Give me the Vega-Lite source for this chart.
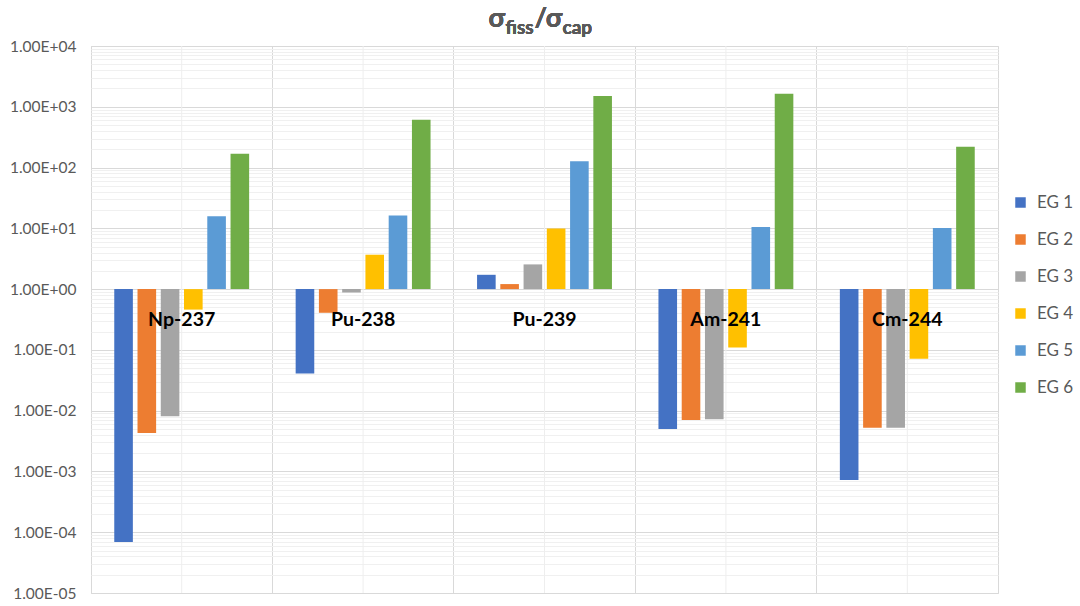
{
  "$schema": "https://vega.github.io/schema/vega-lite/v6.json",
  "width": 907,
  "height": 547,
  "autosize": {"type": "none"},
  "padding": {"left": 91, "top": 46, "right": 82, "bottom": 13},
  "background": "white",
  "config": {
    "view": {"stroke": "#d9d9d9", "strokeWidth": 1},
    "font": "Lato"
  },
  "datasets": {
    "bars": [
      {"iso": "Np-237", "eg": "EG 1", "value": 6.9e-5},
      {"iso": "Np-237", "eg": "EG 2", "value": 4.3e-3},
      {"iso": "Np-237", "eg": "EG 3", "value": 8.1e-3},
      {"iso": "Np-237", "eg": "EG 4", "value": 0.46},
      {"iso": "Np-237", "eg": "EG 5", "value": 15.8},
      {"iso": "Np-237", "eg": "EG 6", "value": 168},
      {"iso": "Pu-238", "eg": "EG 1", "value": 0.041},
      {"iso": "Pu-238", "eg": "EG 2", "value": 0.408},
      {"iso": "Pu-238", "eg": "EG 3", "value": 0.88},
      {"iso": "Pu-238", "eg": "EG 4", "value": 3.68},
      {"iso": "Pu-238", "eg": "EG 5", "value": 16.2},
      {"iso": "Pu-238", "eg": "EG 6", "value": 611},
      {"iso": "Pu-239", "eg": "EG 1", "value": 1.72},
      {"iso": "Pu-239", "eg": "EG 2", "value": 1.21},
      {"iso": "Pu-239", "eg": "EG 3", "value": 2.55},
      {"iso": "Pu-239", "eg": "EG 4", "value": 9.9},
      {"iso": "Pu-239", "eg": "EG 5", "value": 127},
      {"iso": "Pu-239", "eg": "EG 6", "value": 1500},
      {"iso": "Am-241", "eg": "EG 1", "value": 5.0e-3},
      {"iso": "Am-241", "eg": "EG 2", "value": 7.0e-3},
      {"iso": "Am-241", "eg": "EG 3", "value": 7.2e-3},
      {"iso": "Am-241", "eg": "EG 4", "value": 0.109},
      {"iso": "Am-241", "eg": "EG 5", "value": 10.5},
      {"iso": "Am-241", "eg": "EG 6", "value": 1637},
      {"iso": "Cm-244", "eg": "EG 1", "value": 7.2e-4},
      {"iso": "Cm-244", "eg": "EG 2", "value": 5.25e-3},
      {"iso": "Cm-244", "eg": "EG 3", "value": 5.25e-3},
      {"iso": "Cm-244", "eg": "EG 4", "value": 0.0716},
      {"iso": "Cm-244", "eg": "EG 5", "value": 10.1},
      {"iso": "Cm-244", "eg": "EG 6", "value": 219}
    ],
    "cats": [
      {"iso": "Np-237"},
      {"iso": "Pu-238"},
      {"iso": "Pu-239"},
      {"iso": "Am-241"},
      {"iso": "Cm-244"}
    ]
  },
  "layer": [
    {
      "data": {"name": "cats"},
      "mark": {"type": "rule", "color": "#eeeeee", "strokeWidth": 1},
      "encoding": {
        "x": {"field": "iso", "type": "nominal", "sort": null, "bandPosition": 0.5}
      }
    },
    {
      "data": {"name": "bars"},
      "mark": {"type": "bar", "clip": false},
      "encoding": {
        "x": {
          "field": "iso", "type": "nominal", "sort": null,
          "scale": {"domain": ["Np-237", "Pu-238", "Pu-239", "Am-241", "Cm-244"], "paddingInner": 0, "paddingOuter": 0},
          "axis": {
            "title": null, "labels": false, "ticks": false, "domain": false,
            "grid": true, "bandPosition": 0, "gridColor": "#d9d9d9", "gridWidth": 1
          }
        },
        "xOffset": {
          "field": "eg", "type": "nominal", "sort": null,
          "scale": {"paddingInner": 0.2, "paddingOuter": 1.05}
        },
        "y": {
          "field": "value", "type": "quantitative",
          "scale": {"type": "log", "domain": [0.00001, 10000], "nice": false},
          "axis": {
            "title": null,
            "domain": false,
            "ticks": false,
            "labelPadding": 15,
            "labelColor": "#595959",
            "labelFont": "Lato",
            "labelFontSize": 15.5,
            "labelOverlap": false,
            "labelBound": false,
            "values": [1e-5,2e-5,3e-5,4e-5,5e-5,6e-5,7e-5,8e-5,9e-5,
                       1e-4,2e-4,3e-4,4e-4,5e-4,6e-4,7e-4,8e-4,9e-4,
                       1e-3,2e-3,3e-3,4e-3,5e-3,6e-3,7e-3,8e-3,9e-3,
                       1e-2,2e-2,3e-2,4e-2,5e-2,6e-2,7e-2,8e-2,9e-2,
                       0.1,0.2,0.3,0.4,0.5,0.6,0.7,0.8,0.9,
                       1,2,3,4,5,6,7,8,9,
                       10,20,30,40,50,60,70,80,90,
                       100,200,300,400,500,600,700,800,900,
                       1000,2000,3000,4000,5000,6000,7000,8000,9000,
                       10000],
            "labelExpr": "abs(log(datum.value)/LN10 - round(log(datum.value)/LN10)) < 0.001 ? '1.00E' + (round(log(datum.value)/LN10) < 0 ? '-' : '+') + (abs(round(log(datum.value)/LN10)) < 10 ? '0' : '') + abs(round(log(datum.value)/LN10)) : ''",
            "grid": true,
            "gridColor": {
              "condition": {"test": "abs(log(datum.value)/LN10 - round(log(datum.value)/LN10)) < 0.001", "value": "#d9d9d9"},
              "value": "#f0f0f0"
            }
          }
        },
        "y2": {"datum": 1},
        "color": {
          "field": "eg", "type": "nominal", "sort": null,
          "scale": {
            "domain": ["EG 1", "EG 2", "EG 3", "EG 4", "EG 5", "EG 6"],
            "range": ["#4472C4", "#ED7D31", "#A5A5A5", "#FFC000", "#5B9BD5", "#70AD47"]
          },
          "legend": {
            "title": null,
            "orient": "none",
            "legendX": 921,
            "legendY": 148,
            "direction": "vertical",
            "symbolType": "square",
            "symbolSize": 110,
            "symbolStrokeWidth": 0,
            "symbolOpacity": 1,
            "labelFont": "Lato",
            "labelFontSize": 17,
            "labelColor": "#595959",
            "labelOffset": 8,
            "rowPadding": 19,
            "padding": 0
          }
        }
      }
    },
    {
      "data": {"name": "cats"},
      "mark": {"type": "text", "font": "Lato", "fontWeight": "bold", "fontSize": 19.5, "color": "#000000", "align": "center", "baseline": "middle"},
      "encoding": {
        "x": {"field": "iso", "type": "nominal", "sort": null, "bandPosition": 0.5},
        "y": {"datum": 0.31},
        "text": {"field": "iso"}
      }
    },
    {
      "data": {"name": "cats"},
      "mark": {"type": "text", "text": "σ", "font": "Lato", "fontWeight": "bold", "fontSize": 27, "color": "#595959", "align": "left", "baseline": "alphabetic", "dx": -56, "dy": -19, "clip": false},
      "encoding": {
        "x": {"datum": "Pu-239", "bandPosition": 0.5},
        "y": {"datum": 10000}
      }
    },
    {
      "data": {"name": "cats"},
      "mark": {"type": "text", "text": "fiss", "font": "Lato", "fontWeight": "bold", "fontSize": 19, "color": "#595959", "align": "left", "baseline": "alphabetic", "dx": -39, "dy": -12, "clip": false},
      "encoding": {
        "x": {"datum": "Pu-239", "bandPosition": 0.5},
        "y": {"datum": 10000}
      }
    },
    {
      "data": {"name": "cats"},
      "mark": {"type": "text", "text": "/σ", "font": "Lato", "fontWeight": "bold", "fontSize": 27, "color": "#595959", "align": "left", "baseline": "alphabetic", "dx": -10, "dy": -19, "clip": false},
      "encoding": {
        "x": {"datum": "Pu-239", "bandPosition": 0.5},
        "y": {"datum": 10000}
      }
    },
    {
      "data": {"name": "cats"},
      "mark": {"type": "text", "text": "cap", "font": "Lato", "fontWeight": "bold", "fontSize": 19, "color": "#595959", "align": "left", "baseline": "alphabetic", "dx": 18, "dy": -12, "clip": false},
      "encoding": {
        "x": {"datum": "Pu-239", "bandPosition": 0.5},
        "y": {"datum": 10000}
      }
    }
  ]
}
